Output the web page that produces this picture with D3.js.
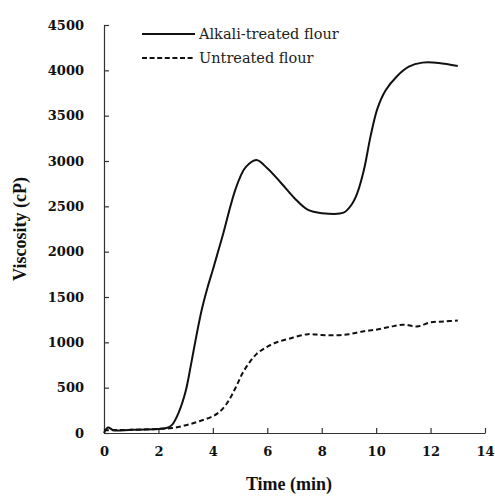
<!DOCTYPE html>
<html>
<head>
<meta charset="utf-8">
<script src="https://cdn.jsdelivr.net/npm/d3@7"></script>
<style>
  body { margin: 0; background: #fff; }
</style>
</head>
<body>
<div class="canvas"></div>
<script>
// data (time in min, viscosity in cP)
const alkaliTime = [0, 0.15, 0.35, 1, 2, 2.3, 2.5, 2.75, 3.0, 3.2, 3.4, 3.6, 3.8, 4.0, 4.2, 4.4, 4.6, 4.8, 5.0, 5.2, 5.6, 6, 6.5, 7, 7.5, 8, 8.8, 9.1, 9.3, 9.55, 9.8, 10.05, 10.35, 10.75, 11.2, 11.7, 12.3, 13];
const alkaliVisc = [0, 60, 30, 35, 45, 55, 90, 230, 460, 760, 1080, 1370, 1600, 1800, 2010, 2220, 2450, 2660, 2820, 2930, 3010, 2920, 2760, 2590, 2460, 2425, 2430, 2520, 2640, 2900, 3280, 3580, 3780, 3930, 4040, 4085, 4082, 4048];

const untreatedTime = [0, 1, 2, 2.5, 3, 3.5, 4, 4.25, 4.5, 4.7, 4.9, 5.1, 5.35, 5.6, 5.9, 6.3, 6.8, 7.5, 8, 8.5, 9, 9.5, 10, 10.5, 11, 11.5, 12, 12.5, 13];
const untreatedVisc = [30, 35, 45, 55, 85, 130, 185, 235, 320, 420, 540, 665, 780, 870, 935, 995, 1040, 1090, 1080, 1078, 1090, 1120, 1140, 1170, 1195, 1175, 1220, 1230, 1240];

const xTicks = [0, 2, 4, 6, 8, 10, 12, 14];
const yTicks = [0, 500, 1000, 1500, 2000, 2500, 3000, 3500, 4000, 4500];
const seriesNames = ['Alkali-treated flour', 'Untreated flour'];

const width = 495, height = 500;
const margin = { top: 25, right: 10, bottom: 67, left: 104 };
const graphWidth = width - margin.left - margin.right;
const graphHeight = height - margin.top - margin.bottom;

const svg = d3.select('.canvas')
    .append('svg')
    .attr('width', width)
    .attr('height', height);

const graph = svg.append('g')
    .attr('transform', `translate(${margin.left}, ${margin.top})`);

const xScale = d3.scaleLinear().domain([0, 14]).range([0, graphWidth]);
const yScale = d3.scaleLinear().domain([0, 4500]).range([graphHeight, 0]);

// axes, ticks pointing inward
const xAxis = d3.axisBottom(xScale).tickValues(xTicks).tickSize(-5).tickSizeOuter(0).tickPadding(14)
    .tickFormat(d3.format('d'));
const yAxis = d3.axisLeft(yScale).tickValues(yTicks).tickSize(-5).tickSizeOuter(0).tickPadding(20)
    .tickFormat(d3.format('d'));

const xAxisGroup = graph.append('g')
    .attr('transform', `translate(0, ${graphHeight})`)
    .call(xAxis);
const yAxisGroup = graph.append('g').call(yAxis);

[xAxisGroup, yAxisGroup].forEach(g => {
    g.select('.domain').attr('stroke', '#333').attr('stroke-width', 1.2);
    g.selectAll('.tick line').attr('stroke', '#333').attr('stroke-width', 1.2);
    g.selectAll('.tick text')
        .attr('fill', '#111')
        .style('font-family', '"DejaVu Serif", serif')
        .style('font-weight', 'bold')
        .style('font-size', '13px');
});

// axis titles
svg.append('text')
    .attr('x', 289)
    .attr('y', 490)
    .attr('text-anchor', 'middle')
    .style('font-family', '"Liberation Serif", serif')
    .style('font-weight', 'bold')
    .style('font-size', '18px')
    .attr('fill', '#111')
    .text('Time (min)');

svg.append('text')
    .attr('transform', `translate(26, ${margin.top + graphHeight / 2}) rotate(-90)`)
    .attr('text-anchor', 'middle')
    .style('font-family', '"Liberation Serif", serif')
    .style('font-weight', 'bold')
    .style('font-size', '18px')
    .attr('fill', '#111')
    .text('Viscosity (cP)');

// lines
const line = d3.line()
    .x(d => xScale(d[0]))
    .y(d => yScale(d[1]))
    .curve(d3.curveCatmullRom.alpha(0.5));

const alkali = alkaliTime.map((t, i) => [t, alkaliVisc[i]]);
const untreated = untreatedTime.map((t, i) => [t, untreatedVisc[i]]);

graph.append('path')
    .datum(untreated)
    .attr('d', line)
    .attr('fill', 'none')
    .attr('stroke', '#111')
    .attr('stroke-width', 2)
    .attr('stroke-dasharray', '5,3');

graph.append('path')
    .datum(alkali)
    .attr('d', line)
    .attr('fill', 'none')
    .attr('stroke', '#111')
    .attr('stroke-width', 2);

// legend
const legend = svg.append('g');
const dashes = ['none', '5,2.6'];
seriesNames.forEach((name, i) => {
    const y = 34 + i * 24;
    legend.append('line')
        .attr('x1', 142).attr('x2', 195)
        .attr('y1', y).attr('y2', y)
        .attr('stroke', '#111')
        .attr('stroke-width', 2)
        .attr('stroke-dasharray', dashes[i]);
    legend.append('text')
        .attr('x', 199)
        .attr('y', y + 5)
        .style('font-family', '"DejaVu Serif", serif')
        .style('font-size', '14.5px')
        .attr('fill', '#222')
        .text(name);
});
</script>
</body>
</html>
